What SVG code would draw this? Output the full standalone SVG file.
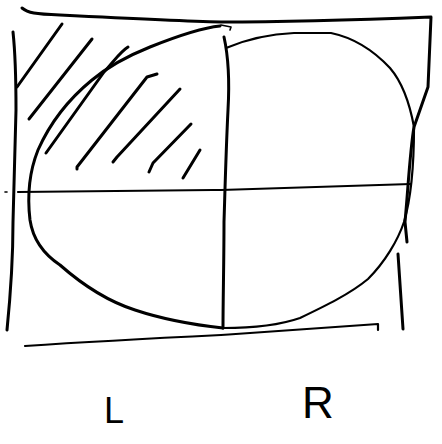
<svg xmlns="http://www.w3.org/2000/svg" width="442" height="444" viewBox="0 0 442 444">
<style>
.s{fill:none;stroke:#000;stroke-linecap:round;stroke-linejoin:round}
.t{stroke-width:3}
.m{stroke-width:2.2}
.n{stroke-width:1.6}
.lbl{font-family:"Liberation Sans",sans-serif;fill:#000}
</style>
<rect width="442" height="444" fill="#fff"/>
<g id="frame">
<path class="s t" d="M22,8 C28,13 35,14 60,15 C120,18 180,21 221,22 C300,22 380,19 431,17 L428,87 L414,127 C410,150 408,190 405,222 L407,242"/>
<path class="s t" d="M13,32 C16,60 16,80 16,110 C15,150 14,190 13,222 C13,260 10,300 7,330"/>
<path class="s t" d="M398,254 L403,329"/>
<path class="s m" d="M25,346 C100,341 160,338 221,335 C280,331 340,327 378,324 L378,330"/>
</g>
<g id="axes">
<path class="s m" d="M18,192 C100,191 160,190 221,190 C300,188 360,186 411,184"/>
<path class="s n" d="M5,192 L7,192"/>
<path class="s t" d="M224,37 C228,55 230,75 228,110 C226,150 225,190 224,222 C224,260 223,300 223,328"/>
<path class="s n" d="M221,25 L231,27 L230,30"/>
</g>
<g id="ellipse">
<path class="s t" d="M220,26 C200,28 175,37 150,47 C130,55 110,65 92,80 C70,98 50,123 38,150 C30,170 27,195 30,220 C33,240 45,255 60,265 C85,287 110,302 135,310 C165,320 195,325 223,328"/>
<path class="s m" d="M226,48 C245,40 270,34 294,33 L331,33 C355,38 375,52 390,68 C402,82 410,105 414,127 C414,160 412,195 404,222 C398,240 385,262 368,279 C350,294 325,306 300,318 C280,325 255,328 223,328"/>
</g>
<g id="hatching">
<path class="s t" d="M62,24 L17,87"/>
<path class="s t" d="M92,39 L29,119"/>
<path class="s t" d="M128,47 C120,52 115,60 104,72 L46,153"/>
<path class="s t" d="M157,74 L147,77 L77,167 L77,169"/>
<path class="s t" d="M180,89 L117,157 L113,162"/>
<path class="s t" d="M191,124 L153,163 L149,172"/>
<path class="s t" d="M200,150 L183,178"/>
</g>
<g id="labels">
<text class="lbl" x="104" y="423" font-size="36">L</text>
<text class="lbl" x="302" y="418" font-size="44">R</text>
</g>
</svg>
